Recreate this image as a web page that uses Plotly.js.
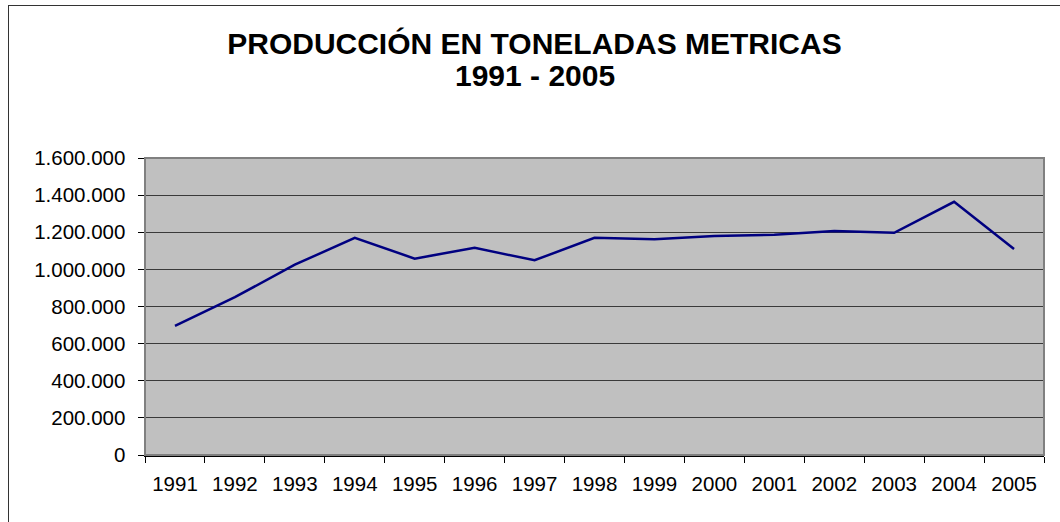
<!DOCTYPE html>
<html>
<head>
<meta charset="utf-8">
<script src="https://cdn.plot.ly/plotly-3.0.1.min.js"></script>
<style>
html,body{margin:0;padding:0;background:#fff;overflow:hidden;}
#wrap{position:relative;width:1060px;height:522px;}
#chart{position:absolute;left:0;top:0;width:1060px;height:522px;}
#frame{position:absolute;left:8px;top:5px;width:1200px;height:700px;border:1.5px solid #333;pointer-events:none;}
</style>
</head>
<body>
<div id="wrap"><div id="chart"></div><div id="frame"></div></div>
<script>
const years = ['1991','1992','1993','1994','1995','1996','1997','1998','1999','2000','2001','2002','2003','2004','2005'];
const production = [695000, 850000, 1025000, 1170000, 1058000, 1116000, 1049000, 1170000, 1162000, 1180000, 1186000, 1207000, 1197000, 1364000, 1110000];
const titleLine1 = 'PRODUCCIÓN EN TONELADAS METRICAS';
const titleLine2 = '1991 - 2005';
const yTicks = [0, 200000, 400000, 600000, 800000, 1000000, 1200000, 1400000, 1600000];

const font = 'Liberation Sans, Arial, sans-serif';

const trace = {
  x: years,
  y: production,
  type: 'scatter',
  mode: 'lines',
  line: {color: '#000080', width: 2.5},
  hoverinfo: 'x+y'
};

const layout = {
  width: 1060,
  height: 522,
  paper_bgcolor: 'rgba(0,0,0,0)',
  plot_bgcolor: '#C0C0C0',
  separators: ',.',
  showlegend: false,
  margin: {l: 145, r: 16, t: 158, b: 67, pad: 0},
  font: {family: font, color: '#000', size: 20.5},
  title: {
    text: titleLine1,
    font: {family: font, size: 30, color: '#000', weight: 'bold'},
    x: 0.5042, xref: 'container', xanchor: 'center',
    y: 1 - 43/522, yref: 'container', yanchor: 'middle'
  },
  annotations: [{
    text: titleLine2,
    showarrow: false,
    xref: 'paper', yref: 'paper',
    x: (534.5 - 145) / (1044 - 145), y: (455 - 75) / (455 - 158),
    xanchor: 'center', yanchor: 'middle',
    font: {family: font, size: 30, color: '#000', weight: 'bold'}
  }],
  xaxis: {
    type: 'category',
    range: [-0.5, years.length - 0.5],
    tickson: 'boundaries',
    ticks: 'outside',
    ticklen: 6,
    tickwidth: 1,
    tickcolor: '#000',
    showgrid: false,
    showline: true,
    linecolor: '#000',
    linewidth: 1.5,
    tickfont: {family: font, size: 20.5, color: '#000'},
    ticklabelstandoff: 10,
    fixedrange: true
  },
  yaxis: {
    range: [0, 1600000],
    tickvals: yTicks,
    tickformat: ',d',
    ticks: 'outside',
    ticklen: 6,
    tickwidth: 1,
    tickcolor: '#000',
    showgrid: true,
    gridcolor: '#3a3a3a',
    gridwidth: 1,
    zeroline: false,
    showline: true,
    linecolor: '#000',
    linewidth: 1.5,
    tickfont: {family: font, size: 20.5, color: '#000'},
    ticklabelstandoff: 8,
    fixedrange: true
  },
  shapes: [{
    type: 'rect', xref: 'paper', yref: 'paper',
    x0: 0, x1: 1, y0: 0, y1: 1,
    line: {color: '#808080', width: 2},
    fillcolor: 'rgba(0,0,0,0)',
    layer: 'above'
  }]
};

Plotly.newPlot('chart', [trace], layout, {displayModeBar: false, staticPlot: true});
</script>
</body>
</html>
